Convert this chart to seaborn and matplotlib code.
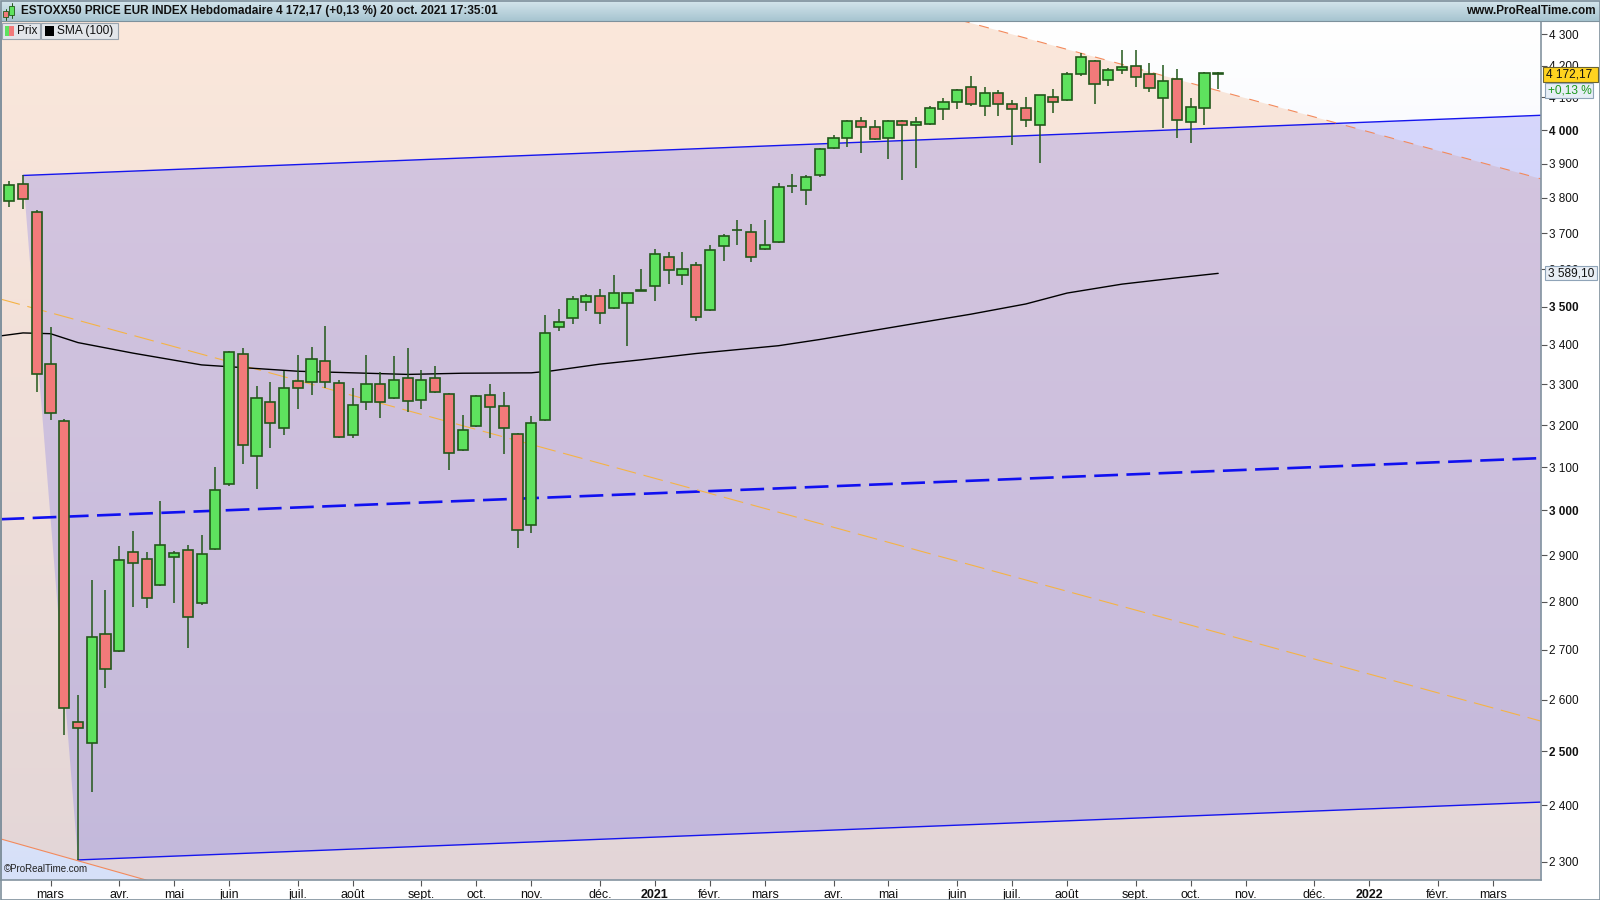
import matplotlib
matplotlib.use("Agg")
import matplotlib.pyplot as plt
from matplotlib.patches import Rectangle, Polygon
import numpy as np
import pandas as pd
import seaborn as sns

W, H = 1600, 900
START = "2020-02-10"  # first weekly candle shown

# weekly candles, ESTOXX50
opens = [3791, 3839, 3759, 3352, 3210, 2556, 2516, 2732, 2698, 2908,
         2891, 2836, 2896, 2912, 2796, 2914, 3061, 3376, 3127, 3257,
         3192, 3308, 3305, 3358, 3303, 3175, 3257, 3301, 3266, 3316,
         3262, 3316, 3276, 3141, 3197, 3274, 3246, 3178, 2966, 3213,
         3446, 3470, 3511, 3527, 3495, 3509, 3542, 3555, 3633, 3586,
         3611, 3490, 3663, 3709, 3703, 3657, 3675, 3834, 3824, 3867,
         3945, 3975, 4029, 4008, 3975, 4029, 4014, 4017, 4063, 4085,
         4131, 4075, 4115, 4079, 4066, 4014, 4100, 4091, 4172, 4216,
         4154, 4186, 4199, 4172, 4097, 4159, 4023, 4066, 4177]
highs = [3850, 3865, 3765, 3447, 3215, 2610, 2846, 2824, 2920, 2954,
         2906, 3021, 2910, 2923, 2944, 3100, 3384, 3391, 3296, 3306,
         3334, 3374, 3395, 3449, 3311, 3291, 3374, 3332, 3372, 3393,
         3335, 3345, 3279, 3224, 3274, 3302, 3282, 3180, 3222, 3477,
         3493, 3527, 3533, 3547, 3584, 3537, 3601, 3656, 3648, 3648,
         3620, 3666, 3697, 3736, 3725, 3736, 3842, 3870, 3867, 3946,
         3985, 4032, 4039, 4030, 4031, 4032, 4039, 4072, 4097, 4126,
         4166, 4131, 4122, 4091, 4100, 4107, 4126, 4181, 4240, 4218,
         4193, 4249, 4249, 4209, 4203, 4190, 4097, 4180, 4180]
lows = [3775, 3768, 3280, 3212, 2532, 2303, 2425, 2622, 2695, 2789,
        2786, 2833, 2797, 2704, 2793, 2911, 3056, 3106, 3050, 3145,
        3177, 3238, 3274, 3290, 3168, 3170, 3236, 3218, 3264, 3231,
        3238, 3278, 3094, 3139, 3195, 3170, 3130, 2915, 2950, 3210,
        3437, 3453, 3489, 3453, 3494, 3398, 3541, 3515, 3561, 3558,
        3463, 3488, 3624, 3667, 3619, 3654, 3673, 3815, 3780, 3861,
        3944, 3950, 3932, 3970, 3914, 3853, 3888, 4015, 4031, 4065,
        4074, 4043, 4043, 3956, 4010, 3901, 4053, 4089, 4166, 4079,
        4136, 4172, 4131, 4116, 4007, 3977, 3962, 4016, 4125]
closes = [3836, 3796, 3325, 3229, 2583, 2545, 2726, 2660, 2889, 2883,
          2807, 2923, 2904, 2767, 2902, 3047, 3381, 3151, 3266, 3204,
          3290, 3292, 3363, 3305, 3171, 3249, 3301, 3257, 3311, 3259,
          3311, 3280, 3134, 3187, 3271, 3244, 3194, 2956, 3204, 3430,
          3460, 3519, 3529, 3482, 3537, 3535, 3543, 3642, 3598, 3600,
          3472, 3652, 3693, 3710, 3633, 3666, 3831, 3835, 3861, 3942,
          3975, 4029, 4008, 3972, 4029, 4014, 4023, 4066, 4085, 4122,
          4079, 4115, 4081, 4063, 4032, 4106, 4085, 4172, 4226, 4143,
          4186, 4196, 4165, 4128, 4152, 4032, 4069, 4177, 4172.17]

# SMA(100) read at a few weeks
sma_idx = [-0.7, 1, 3, 5, 9, 14, 21, 29, 33, 38, 39.5, 43, 46, 50, 56,
           59, 62, 66, 70, 74, 77, 81, 85, 88]
sma_val = [3423, 3431, 3429, 3406, 3379, 3349, 3333, 3325, 3328, 3329, 3334,
           3351, 3362, 3378, 3398, 3414, 3432, 3456, 3480, 3507, 3536, 3560,
           3577, 3589.10]

# trend channels, anchor points (week index, price)
up_chan_idx, up_chan_val = [1, 111.5], [3865, 4045]
lo_chan_idx, lo_chan_val = [5, 111.5], [2303, 2406]
mid_chan_idx, mid_chan_val = [-0.64, 111.5], [2980, 3121]
down_up_idx, down_up_val = [73.6, 111.5], [4293, 3855]
down_mid_idx, down_mid_val = [-0.64, 111.5], [3520, 2558]
down_lo_idx, down_lo_val = [-0.64, 9.7], [2340, 2270]

y_ticks = list(range(2300, 4301, 100))
months_fr = ["janv.", "févr.", "mars", "avr.", "mai", "juin", "juil.",
             "août", "sept.", "oct.", "nov.", "déc."]

XMIN, XMAX = -0.64, 111.5
YMIN, YMAX = 2269, 4344

GREEN, RED, EDGE = "#5ee25e", "#f27a7a", "#22581a"
NARROW = ["Liberation Sans Narrow", "Liberation Sans", "DejaVu Sans"]


def ext(idx, val, x):
    # straight line on the log price axis through two anchor points
    s = (np.log(val[1]) - np.log(val[0])) / (idx[1] - idx[0])
    return val[0] * np.exp(s * (np.asarray(x, dtype=float) - idx[0]))


def fr_num(v, dec=0):
    s = f"{v:,.{dec}f}"
    return s.replace(",", " ").replace(".", ",")


def vgrad(top, bottom, n=256):
    t = np.linspace(0, 1, n).reshape(-1, 1, 1)
    return (np.array(top) * (1 - t) + np.array(bottom) * t) / 255


sns.set_theme(style="white")
plt.rcParams["font.family"] = ["Liberation Sans", "DejaVu Sans"]

fig = plt.figure(figsize=(16, 9), dpi=100)
fig.patch.set_facecolor("white")
ax = fig.add_axes([0.5 / W, 1 - 879.6 / H, (1541 - 0.5) / W, (879.6 - 21) / H])
ax.set_yscale("log")

# background gradient, white at the top to pale blue at the bottom
ax.imshow(vgrad([255, 255, 255], [214, 224, 248]), extent=[0, 1, 0, 1], origin="upper",
          transform=ax.transAxes, aspect="auto", zorder=0, interpolation="bilinear")

xs = np.array([XMIN, XMAX])
# descending channel fill
ax.fill_between(xs, ext(down_lo_idx, down_lo_val, xs), ext(down_up_idx, down_up_val, xs),
                color="#f6c8aa", alpha=0.42, lw=0, zorder=1)
# rising channel fill
poly = Polygon([(up_chan_idx[0], up_chan_val[0]), (up_chan_idx[1], up_chan_val[1]),
                (lo_chan_idx[1], lo_chan_val[1]), (lo_chan_idx[0], lo_chan_val[0])],
               closed=True, facecolor="#4646f0", alpha=0.2, lw=0, zorder=1)
ax.add_patch(poly)

# channel lines
ax.plot(up_chan_idx, up_chan_val, color="#1515ee", lw=1.0, zorder=2)
ax.plot(lo_chan_idx, lo_chan_val, color="#1515ee", lw=1.0, zorder=2)
ax.plot(mid_chan_idx, mid_chan_val, color="#1010f0", lw=1.9, dashes=(9, 3.2), zorder=2)
xu = np.array([60, XMAX])
ax.plot(xu, ext(down_up_idx, down_up_val, xu), color="#f38a5c", lw=0.8, dashes=(9, 9), zorder=2)
ax.plot(xs, ext(down_mid_idx, down_mid_val, xs), color="#f5b345", lw=0.8, dashes=(18, 7), zorder=2)
xl = np.array([XMIN, 20])
ax.plot(xl, ext(down_lo_idx, down_lo_val, xl), color="#f38a5c", lw=0.8, zorder=2)

# SMA(100)
sns.lineplot(x=sma_idx, y=sma_val, ax=ax, color="black", lw=1.0, estimator=None,
             sort=False, zorder=3)

# candles
idx = np.arange(len(opens))
o, h, l, c = map(np.asarray, (opens, highs, lows, closes))
up = c >= o
ax.vlines(idx, l, h, color=EDGE, lw=1.1, zorder=4)
ax.bar(idx, np.abs(c - o), bottom=np.minimum(o, c), width=0.74,
       color=np.where(up, GREEN, RED), edgecolor=EDGE, linewidth=1.2, zorder=5)

ax.set_xlim(XMIN, XMAX)
ax.set_ylim(YMIN, YMAX)

# month ticks (first weekly candle of each month)
weeks = pd.date_range(START, periods=112, freq="W-MON")
tick_pos, tick_lab = [], []
for i in range(1, len(weeks)):
    if weeks[i].month != weeks[i - 1].month:
        tick_pos.append(i)
        tick_lab.append(str(weeks[i].year) if weeks[i].month == 1 else months_fr[weeks[i].month - 1])
ax.set_xticks(tick_pos, tick_lab)
for t in ax.get_xticklabels():
    t.set_family(NARROW)
    t.set_fontsize(9)
    if t.get_text().isdigit():
        t.set_fontweight("bold")

ax.yaxis.tick_right()
ax.set_yticks(y_ticks, [fr_num(v) for v in y_ticks])
ax.set_yticks([], minor=True)
for t, v in zip(ax.get_yticklabels(), y_ticks):
    t.set_fontsize(8.5)
    if v % 500 == 0:
        t.set_fontweight("bold")
ax.tick_params(axis="y", length=4, width=0.8, color="#555555", pad=2, labelcolor="#111111")
ax.tick_params(axis="x", length=4, width=0.8, color="#555555", pad=3, labelcolor="#111111",
               bottom=True)
ax.grid(False)
for side, sp in ax.spines.items():
    sp.set_color("#8494a0")
    sp.set_linewidth(1.2)
ax.spines["top"].set_visible(False)

ax.text(0.002, 0.006, "©ProRealTime.com", transform=ax.transAxes, fontsize=7,
        color="#222222", ha="left", va="bottom", zorder=6)

# overlay in pixel coordinates for header, legend and price boxes
ov = fig.add_axes([0, 0, 1, 1])
ov.set_xlim(0, W)
ov.set_ylim(H, 0)
ov.axis("off")

ov.imshow(vgrad([214, 230, 237], [166, 196, 208], 64), extent=[0, W, 21, 0],
          aspect="auto", zorder=1)
ov.plot([0, W], [21, 21], color="#7d919c", lw=0.8, zorder=2)
# small candle icon
ov.plot([5.5, 5.5], [9, 20], color=EDGE, lw=0.7, zorder=3)
ov.add_patch(Rectangle((3, 11), 5, 6, facecolor=RED, edgecolor=EDGE, lw=0.6, zorder=4))
ov.plot([11.5, 11.5], [3, 18], color=EDGE, lw=0.7, zorder=3)
ov.add_patch(Rectangle((9, 6), 5, 9, facecolor=GREEN, edgecolor=EDGE, lw=0.6, zorder=4))
ov.text(21, 11, "ESTOXX50 PRICE EUR INDEX Hebdomadaire 4 172,17 (+0,13 %) 20 oct. 2021 17:35:01",
        fontsize=8.5, fontweight="bold", color="#111111", ha="left", va="center", zorder=5)
ov.text(1596, 11, "www.ProRealTime.com", fontsize=8.5, fontweight="bold", color="#111111",
        ha="right", va="center", zorder=5)

# legend boxes
ov.add_patch(Rectangle((1.5, 22.5), 38, 16, facecolor="#e3e6ea", edgecolor="#9aa4ae", lw=0.8, zorder=3))
ov.add_patch(Rectangle((4.5, 25.5), 4.5, 10, facecolor=GREEN, lw=0, zorder=4))
ov.add_patch(Rectangle((9, 25.5), 4.5, 10, facecolor=RED, lw=0, zorder=4))
ov.text(17, 30.8, "Prix", fontsize=8.6, color="#111111", ha="left", va="center", zorder=5)
ov.add_patch(Rectangle((40.5, 22.5), 77, 16, facecolor="#e3e6ea", edgecolor="#9aa4ae", lw=0.8, zorder=3))
ov.add_patch(Rectangle((44.5, 25.5), 9.5, 10, facecolor="black", lw=0, zorder=4))
ov.text(57, 30.8, "SMA (100)", fontsize=8.6, color="#111111", ha="left", va="center", zorder=5)


def py(price):
    return H - ax.transData.transform((0, price))[1]


last = closes[-1]
y_last = py(last)
ov.add_patch(Rectangle((1543, y_last - 7.5), 55, 15, facecolor="#ffd320", edgecolor="#6b6330",
                       lw=0.8, zorder=6))
ov.text(1546, y_last, fr_num(last, 2), fontsize=8.6, color="#111111", ha="left", va="center", zorder=7)
ov.add_patch(Rectangle((1545, y_last + 8.5), 48, 15, facecolor="#e6eef6", edgecolor="#8fa4b8",
                       lw=0.8, zorder=6))
ov.text(1548, y_last + 16, "+0,13 %", fontsize=8.6, color="#1c9a1c", ha="left", va="center", zorder=7)

y_sma = py(sma_val[-1])
ov.add_patch(Rectangle((1545, y_sma - 7), 52, 14, facecolor="#e8eef5", edgecolor="#8fa4b8",
                       lw=0.8, zorder=6))
ov.text(1548, y_sma, fr_num(sma_val[-1], 2), fontsize=8.6, color="#111111", ha="left",
        va="center", zorder=7)

# outer frame
ov.add_patch(Rectangle((0.5, 0.5), W - 1, H - 1, fill=False, edgecolor="#7f909c", lw=1.2, zorder=8))

fig.savefig("out.png", dpi=100)
